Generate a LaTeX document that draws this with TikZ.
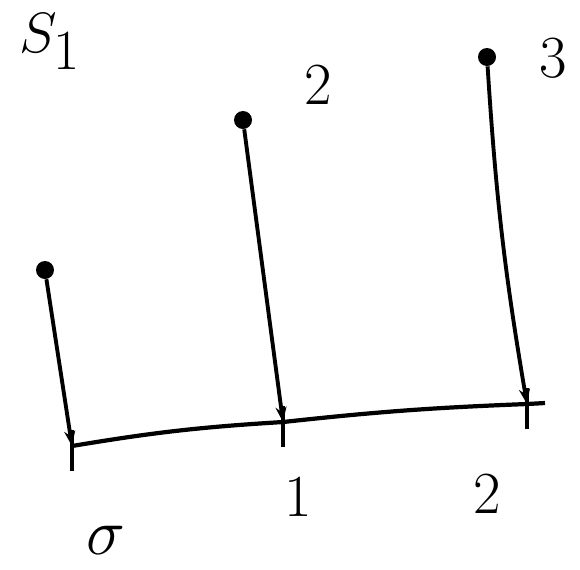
\documentclass[tikz,border=0pt]{standalone}
\usepackage{tikz}
\usetikzlibrary{arrows.meta,positioning}

\begin{document}
\begin{tikzpicture}[
  x=0.02cm,y=-0.02cm,
  font=\fontsize{34}{38}\selectfont,
  dot/.style={circle,fill=black,inner sep=0pt,minimum size=0.36cm},
  lbl/.style={inner sep=0pt},
  drop/.style={-{Stealth[length=0.3cm,width=0.22cm]},line width=2.2pt},
  axis/.style={line width=2.4pt}
]
\useasboundingbox (0,0) rectangle (580,569);
% ---- points and their labels ----
\node[lbl,scale=1.3] (s1) at (50,42) {$S_1$};
\node[dot] (p1) at (45,270) {};
\node[dot] (p2) at (243,120) {};
\node[dot] (p3) at (487,57) {};
\node[lbl] (l2) at (318,85) {2};
\node[lbl] (l3) at (553,58) {3};

% ---- axis with ticks ----
\coordinate (a0) at (72,446);
\coordinate (a1) at (283,422);
\coordinate (a2) at (527,404);
\coordinate (aend) at (545,403);
\draw[axis] (a0) to[bend left=3] (a1) to[bend left=2] (a2) -- (aend);
\foreach \c in {a0,a1,a2}
  \draw[axis] ([yshift=0.32cm]\c) -- ([yshift=-0.5cm]\c);

% ---- drop lines ----
\draw[drop] (p1) -- (a0);
\draw[drop] (p2) -- (a1);
\draw[drop] (p3) to[bend right=3] (a2);

% ---- tick labels ----
\node[lbl,scale=1.5,below=1.6cm of a0,xshift=0.45cm] (t0) {$\sigma$};
\node[lbl,below=1.1cm of a1,xshift=0.3cm] (t1) {1};
\node[lbl,below=1.4cm of a2,xshift=-0.8cm] (t2) {2};
\end{tikzpicture}
\end{document}
